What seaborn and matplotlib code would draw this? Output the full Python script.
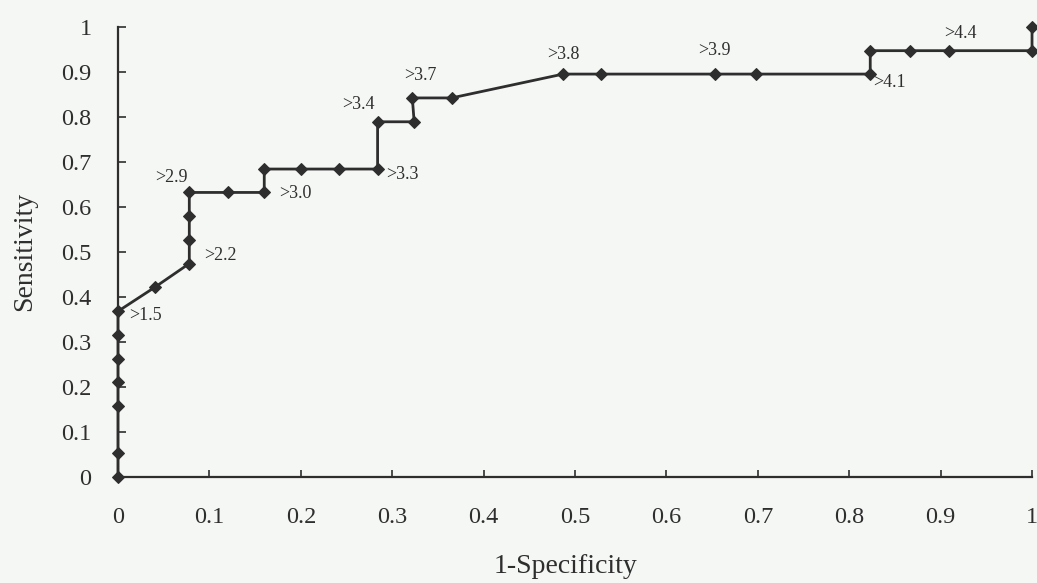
import matplotlib
matplotlib.use("Agg")
import matplotlib.pyplot as plt
import seaborn as sns
import pandas as pd

# ROC data
fpr = [0.0, 0.0, 0.0, 0.0, 0.0, 0.0, 0.0, 0.04, 0.078, 0.078, 0.078, 0.078,
       0.12, 0.16, 0.16, 0.20, 0.242, 0.284, 0.284, 0.324, 0.322, 0.365,
       0.487, 0.528, 0.653, 0.698, 0.823, 0.823, 0.867, 0.909, 1.0, 1.0]
tpr = [0.0, 0.053, 0.158, 0.211, 0.263, 0.316, 0.368, 0.421, 0.474, 0.526, 0.579, 0.632,
       0.632, 0.632, 0.684, 0.684, 0.684, 0.684, 0.789, 0.789, 0.842, 0.842,
       0.895, 0.895, 0.895, 0.895, 0.895, 0.947, 0.947, 0.947, 0.947, 1.0]

# cut-off labels
cut_labels = [">1.5", ">2.2", ">2.9", ">3.0", ">3.3", ">3.4", ">3.7", ">3.8", ">3.9", ">4.1", ">4.4"]
cut_x = [0.0, 0.078, 0.078, 0.16, 0.284, 0.284, 0.322, 0.487, 0.653, 0.823, 0.909]
cut_y = [0.368, 0.474, 0.632, 0.632, 0.684, 0.789, 0.842, 0.895, 0.895, 0.895, 0.947]
cut_off = [(8, -3), (11, 6), (-1, 5), (11, -1), (6, -4), (-2, 6), (6, 10), (0, 8), (0, 11), (2, -6), (8, 6)]
cut_align = [("left", "center"), ("left", "center"), ("right", "bottom"), ("left", "center"),
             ("left", "center"), ("right", "bottom"), ("center", "bottom"), ("center", "bottom"),
             ("center", "bottom"), ("left", "center"), ("center", "bottom")]

x_ticks = [0, 0.1, 0.2, 0.3, 0.4, 0.5, 0.6, 0.7, 0.8, 0.9, 1.0]
x_tick_labels = ["0", "0.1", "0.2", "0.3", "0.4", "0.5", "0.6", "0.7", "0.8", "0.9", "1"]
y_ticks = x_ticks
y_tick_labels = x_tick_labels

sns.set_style("ticks")
plt.rcParams["font.family"] = ["Liberation Serif", "DejaVu Serif"]

bg = "#f5f7f4"
ink = "#2e2e2e"

fig = plt.figure(figsize=(10.37, 5.83), dpi=100, facecolor=bg)
ax = fig.add_axes([0.1138, 0.182, 0.8814, 0.772])
ax.set_facecolor(bg)

df = pd.DataFrame({"fpr": fpr, "tpr": tpr})
sns.lineplot(data=df, x="fpr", y="tpr", sort=False, estimator=None, ax=ax,
             color=ink, linewidth=2.0, marker="D", markersize=6.5,
             markeredgecolor=ink, markerfacecolor=ink, clip_on=False)

for t, x, y, off, al in zip(cut_labels, cut_x, cut_y, cut_off, cut_align):
    ax.annotate(t, (x, y), xytext=off, textcoords="offset points",
                ha=al[0], va=al[1], fontsize=13, color=ink)

ax.set_xlim(0, 1)
ax.set_ylim(0, 1)
ax.set_xticks(x_ticks)
ax.set_xticklabels(x_tick_labels)
ax.set_yticks(y_ticks)
ax.set_yticklabels(y_tick_labels)
ax.tick_params(axis="x", direction="in", length=5, width=1.2, pad=22,
               labelsize=17.5, colors=ink)
ax.tick_params(axis="y", direction="in", length=6, width=1.2, pad=19,
               labelsize=17.5, colors=ink)
for s in ["top", "right"]:
    ax.spines[s].set_visible(False)
for s in ["left", "bottom"]:
    ax.spines[s].set_color(ink)
    ax.spines[s].set_linewidth(1.6)

ax.set_xlabel("1-Specificity", fontsize=20, color=ink)
ax.set_ylabel("Sensitivity", fontsize=20, color=ink)
ax.xaxis.set_label_coords(0.49, -0.172)
ax.yaxis.set_label_coords(-0.088, 0.5)

fig.savefig("out.png", dpi=100, facecolor=bg)
